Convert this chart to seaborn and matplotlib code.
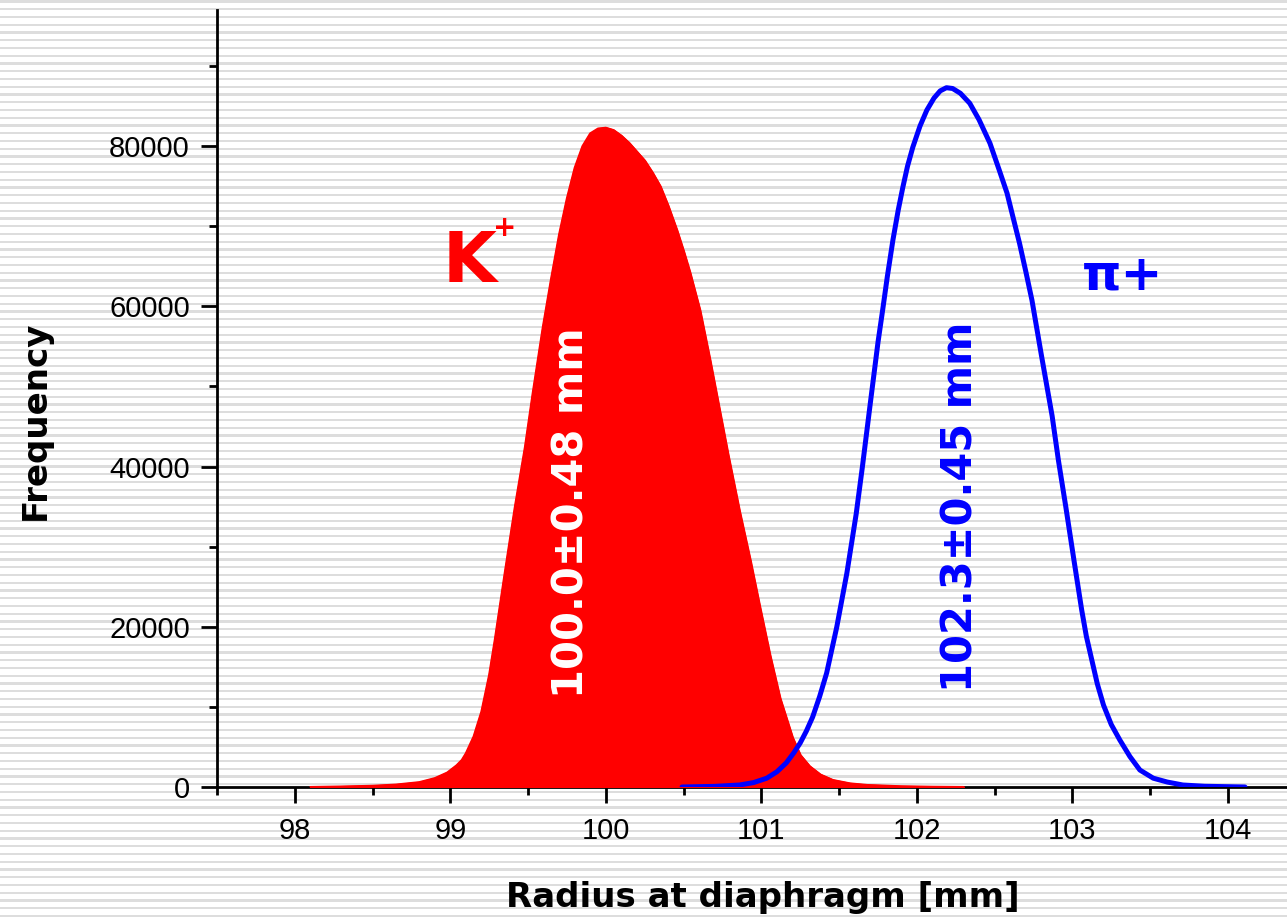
import numpy as np
import matplotlib
matplotlib.use("Agg")
import matplotlib.pyplot as plt
import seaborn as sns
from matplotlib.ticker import MultipleLocator, FuncFormatter

# K+ distribution (filled, red)
k_radius = [98.1, 98.3, 98.5, 98.65, 98.8, 98.9, 98.98, 99.04, 99.074, 99.1,
            99.15, 99.2, 99.25, 99.286, 99.35, 99.415, 99.48, 99.53, 99.595, 99.65,
            99.70, 99.75, 99.80, 99.85, 99.90, 99.95, 100.0, 100.05, 100.10, 100.15,
            100.20, 100.25, 100.30, 100.35, 100.40, 100.457, 100.50, 100.54, 100.605, 100.67,
            100.73, 100.785, 100.86, 100.93, 100.99, 101.055, 101.12, 101.20, 101.25, 101.31,
            101.38, 101.46, 101.57, 101.68, 101.9, 102.1, 102.3]
k_freq = [0, 60, 150, 300, 600, 1100, 1800, 2700, 3370, 4200,
          6300, 9400, 14000, 18350, 26700, 34940, 42430, 49170, 57410, 63650,
          69000, 73500, 77300, 80000, 81600, 82200, 82300, 82000, 81300, 80400,
          79300, 78200, 76700, 75000, 72600, 69510, 66900, 64300, 59530, 53290,
          47200, 41600, 34400, 28200, 22500, 16500, 11100, 6200, 4000, 2600,
          1550, 870, 450, 250, 90, 30, 0]

# pi+ distribution (blue line)
pi_radius = [100.49, 100.7, 100.86, 100.95, 101.035, 101.1, 101.16, 101.21, 101.25, 101.29,
             101.33, 101.375, 101.42, 101.485, 101.55, 101.61, 101.65, 101.70, 101.75, 101.78,
             101.81, 101.846, 101.88, 101.91, 101.94, 101.974, 102.02, 102.064, 102.11, 102.15,
             102.19, 102.23, 102.28, 102.34, 102.40, 102.47, 102.53, 102.58, 102.62, 102.66,
             102.70, 102.74, 102.80, 102.87, 102.91, 102.958, 103.01, 103.06, 103.09, 103.125,
             103.16, 103.20, 103.25, 103.305, 103.37, 103.434, 103.52, 103.61, 103.71, 103.85,
             104.11]
pi_freq = [0, 80, 250, 550, 1100, 1900, 3000, 4300, 5500, 7000,
           8740, 11300, 14230, 19970, 26700, 34100, 40000, 47800, 55500, 59530,
           63700, 68270, 72000, 74880, 77500, 79870, 82500, 84490, 86000, 86900,
           87300, 87200, 86600, 85360, 83300, 80370, 77000, 74130, 71000, 67890,
           64400, 60780, 54000, 46300, 40810, 34940, 28330, 22090, 18800, 15850,
           12900, 10230, 7800, 5870, 3800, 2120, 1100, 620, 250, 90,
           0]

x_ticks = [98, 99, 100, 101, 102, 103, 104]
y_ticks = [0, 20000, 40000, 60000, 80000]

sns.set_style("ticks")
plt.rcParams['font.family'] = ['Liberation Sans', 'DejaVu Sans']
plt.rcParams['text.color'] = 'black'
plt.rcParams['xtick.color'] = 'black'
plt.rcParams['ytick.color'] = 'black'
plt.rcParams['lines.solid_joinstyle'] = 'round'

W, H = 1287, 923
fig = plt.figure(figsize=(W / 100, H / 100), dpi=100, facecolor='white')

# striped background, in its own axes behind everything
rows = np.arange(H)
stripe = (rows % 7.75) < 2.2
bg = np.ones((H, W, 3))
bg[stripe] = 0.87
bax = fig.add_axes([0, 0, 1, 1], zorder=-10)
bax.imshow(bg, aspect='auto', interpolation='nearest')
bax.axis('off')

ax = fig.add_axes([217 / W, 1 - 787 / H, 1 - 217 / W, (787 - 10) / H])
ax.set_facecolor('none')

ax.fill_between(k_radius, k_freq, color='#ff0000', lw=1.5, zorder=3)
sns.lineplot(x=k_radius, y=k_freq, ax=ax, color='#ff0000', lw=1.5, estimator=None, zorder=3)
sns.lineplot(x=pi_radius, y=pi_freq, ax=ax, color='#0000ff', lw=3.6, estimator=None, zorder=4)

ax.set_xlim(97.5, 104.38)
ax.set_ylim(0, 97000)
ax.set_xticks(x_ticks)
ax.set_yticks(y_ticks)
ax.xaxis.set_minor_locator(MultipleLocator(0.5))
ax.yaxis.set_minor_locator(MultipleLocator(10000))
ax.yaxis.set_major_formatter(FuncFormatter(lambda v, p: '{:.0f}'.format(v)))
ax.xaxis.set_major_formatter(FuncFormatter(lambda v, p: '{:.0f}'.format(v)))

ax.tick_params(which='major', length=11.5, width=2, labelsize=21, pad=8, color='black',
               labelcolor='black')
ax.tick_params(which='minor', length=6, width=2, color='black')
ax.tick_params(axis='x', which='major', pad=10)
for s in ['top', 'right']:
    ax.spines[s].set_visible(False)
for s in ['left', 'bottom']:
    ax.spines[s].set_linewidth(2)
    ax.spines[s].set_color('black')
    ax.spines[s].set_zorder(2)

lab = dict(family='DejaVu Sans', fontweight='bold', fontsize=24.5, color='black')
fig.text(35 / W, 1 - 420 / H, 'Frequency', rotation=90, ha='center', va='center', **lab)
fig.text(763 / W, 1 - 897 / H, 'Radius at diaphragm [mm]', ha='center', va='center', **lab)

# annotations
ax.text(99.125, 65500, 'K', color='#ff0000', fontsize=50, ha='center', va='center',
        family='DejaVu Sans', fontweight='semibold')
ax.text(99.35, 69800, '+', color='#ff0000', fontsize=20, ha='center', va='center',
        family='DejaVu Sans', fontweight='bold')
ax.text(103.32, 63900, 'π+', color='#0000ff', fontsize=36, ha='center', va='center',
        family='DejaVu Sans', fontweight='bold')
ax.text(99.78, 34300, '100.0±0.48 mm', color='white', fontsize=30, rotation=90,
        ha='center', va='center', family='DejaVu Sans', fontweight='bold', zorder=5)
ax.text(102.28, 35000, '102.3±0.45 mm', color='#0000ff', fontsize=30, rotation=90,
        ha='center', va='center', family='DejaVu Sans', fontweight='bold', zorder=5)

fig.savefig('out.png', dpi=100, facecolor='white')
